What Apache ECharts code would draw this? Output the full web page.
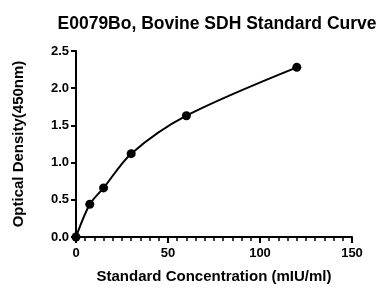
<!DOCTYPE html>
<html>
<head>
<meta charset="utf-8">
<script src="https://cdn.jsdelivr.net/npm/echarts@6/dist/echarts.min.js"></script>
<style>
  html, body { margin: 0; padding: 0; background: #fff; }
  #chart { width: 377px; height: 289px; }
</style>
</head>
<body>
<div id="chart"></div>
<script>
// standard curve readings
const concentrations = [0, 7.5, 15, 30, 60, 120]
const densities = [0, 0.44, 0.66, 1.12, 1.63, 2.28]
const font = "'Liberation Sans', Arial, sans-serif"

const chart = echarts.init(document.getElementById('chart'))
chart.setOption({
  animation: false,
  title: {
    text: 'E0079Bo, Bovine SDH Standard Curve',
    left: 212,
    top: 10,
    textAlign: 'center',
    textStyle: { fontFamily: font, fontWeight: 'bold', fontSize: 17.5, color: '#000' }
  },
  grid: { left: 76, right: 25, top: 51, bottom: 49 },
  xAxis: {
    type: 'value',
    min: 0,
    max: 150,
    interval: 50,
    name: 'Standard Concentration (mIU/ml)',
    nameLocation: 'middle',
    nameGap: 32,
    nameTextStyle: { fontFamily: font, fontWeight: 'bold', fontSize: 15, color: '#000' },
    axisLine: { lineStyle: { color: '#000', width: 2 } },
    axisTick: { length: 6, lineStyle: { color: '#000', width: 2 } },
    minorTick: { show: true, splitNumber: 10, length: 4, lineStyle: { color: '#000', width: 1.5 } },
    splitLine: { show: false },
    axisLabel: { fontFamily: font, fontWeight: 'bold', fontSize: 13, color: '#000', margin: 10 }
  },
  yAxis: {
    type: 'value',
    min: 0,
    max: 2.5,
    interval: 0.5,
    name: 'Optical Density(450nm)',
    nameLocation: 'middle',
    nameGap: 50,
    nameTextStyle: { fontFamily: font, fontWeight: 'bold', fontSize: 15, color: '#000' },
    axisLine: { show: true, lineStyle: { color: '#000', width: 2 } },
    axisTick: { show: true, length: 5, lineStyle: { color: '#000', width: 2 } },
    splitLine: { show: false },
    axisLabel: {
      fontFamily: font, fontWeight: 'bold', fontSize: 13, color: '#000', margin: 7,
      formatter: v => v.toFixed(1)
    }
  },
  series: [{
    type: 'line',
    data: concentrations.map((c, i) => [c, densities[i]]),
    smooth: 0.3,
    symbol: 'circle',
    symbolSize: 9,
    clip: false,
    itemStyle: { color: '#000' },
    lineStyle: { color: '#000', width: 2 }
  }]
})
</script>
</body>
</html>
